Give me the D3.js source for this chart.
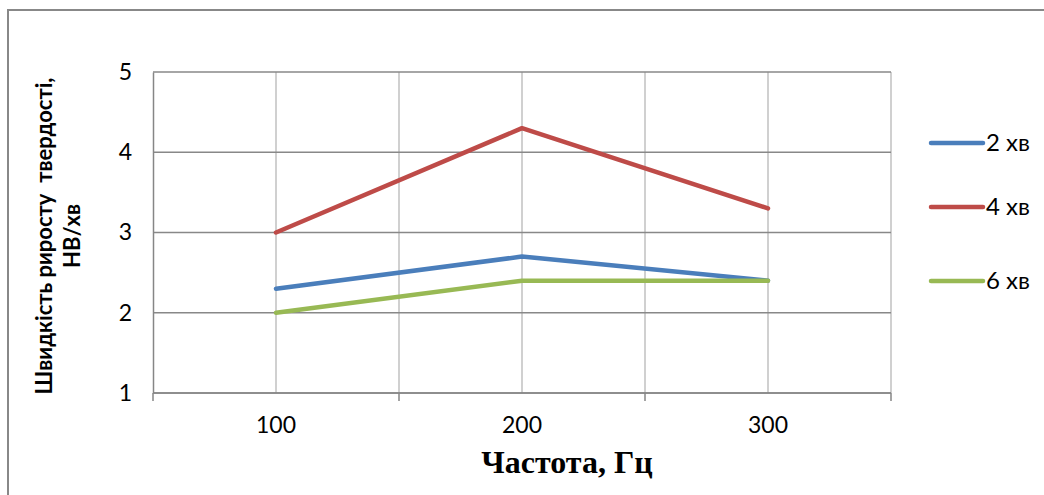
<!DOCTYPE html>
<html><head><meta charset="utf-8">
<script src="https://cdn.jsdelivr.net/npm/d3@7"></script>
<style>html,body{margin:0;padding:0;background:#fff;}</style>
</head><body>
<svg id="c" width="1044" height="495"></svg>
<script>
const categories = ["100", "200", "300"];
const seriesNames = ["2 хв", "4 хв", "6 хв"];
const series2 = [2.3, 2.7, 2.4];
const series4 = [3.0, 4.3, 3.3];
const series6 = [2.0, 2.4, 2.4];
const yTicks = [1, 2, 3, 4, 5];
const colors = ["#4a7ebb", "#be4b48", "#98b954"];
const allSeries = [series2, series4, series6];

const svg = d3.select("#c");
const L = 153, R = 891, T = 72, B = 393;
const FONT = "Lato, 'Open Sans', sans-serif";

svg.append("rect").attr("x", 8).attr("y", 10).attr("width", 1100).attr("height", 600)
  .attr("fill", "#fff").attr("stroke", "#888").attr("stroke-width", 2);

const xBand = d3.scaleBand().domain(categories).range([L, R]);
const xc = d => xBand(d) + xBand.bandwidth() / 2;
const y = d3.scaleLinear().domain([1, 5]).range([B, T]);

const g = svg.append("g");
const vx = [];
categories.forEach(c => { vx.push(xBand(c)); vx.push(xc(c)); });
vx.push(R);
vx.forEach(x => {
  if (Math.abs(x - L) < 1) return;
  g.append("line").attr("x1", x).attr("x2", x).attr("y1", T).attr("y2", B)
    .attr("stroke", "#c0c0c0").attr("stroke-width", 1.5);
});
yTicks.forEach(t => {
  g.append("line").attr("x1", L).attr("x2", R).attr("y1", y(t)).attr("y2", y(t))
    .attr("stroke", "#888").attr("stroke-width", 1.5);
});

const yAxis = d3.axisLeft(y).tickValues(yTicks).tickFormat(d3.format("d")).tickSize(0).tickPadding(21);
const ya = svg.append("g").attr("transform", `translate(${L},0)`).call(yAxis);
ya.select(".domain").attr("stroke", "#868686").attr("stroke-width", 1.5);
ya.selectAll("text").attr("font-family", FONT).attr("font-size", 23).attr("fill", "#000");

const xAxis = d3.axisBottom(xBand).tickSize(0).tickPadding(24);
const xa = svg.append("g").attr("transform", `translate(0,${B})`).call(xAxis);
xa.select(".domain").remove();
xa.selectAll("text").attr("font-family", FONT).attr("font-size", 23).attr("fill", "#000");
svg.append("line").attr("x1", L).attr("x2", R).attr("y1", B).attr("y2", B).attr("stroke", "#868686").attr("stroke-width", 1.5);
const bx = categories.map(c => xBand(c)).concat([R]);
bx.forEach(x => svg.append("line").attr("x1", x).attr("x2", x).attr("y1", B).attr("y2", B + 8)
  .attr("stroke", "#868686").attr("stroke-width", 1.5));

const line = d3.line().x((d, i) => xc(categories[i])).y(d => y(d));
allSeries.forEach((s, i) => {
  svg.append("path").datum(s).attr("d", line).attr("fill", "none")
    .attr("stroke", colors[i]).attr("stroke-width", 4.5).attr("stroke-linecap", "round").attr("stroke-linejoin", "round");
});

const ly = [143, 207, 281];
seriesNames.forEach((n, i) => {
  svg.append("line").attr("x1", 931).attr("x2", 983).attr("y1", ly[i]).attr("y2", ly[i])
    .attr("stroke", colors[i]).attr("stroke-width", 4.5).attr("stroke-linecap", "round");
  svg.append("text").attr("x", 986).attr("y", ly[i] + 8).text(n)
    .attr("font-family", FONT).attr("font-size", 24).attr("fill", "#000");
});

const yt = svg.append("text").attr("transform", "translate(0,236) rotate(-90)")
  .attr("text-anchor", "middle").attr("font-family", FONT)
  .attr("font-weight", "bold").attr("font-size", 22).attr("fill", "#000").attr("xml:space", "preserve");
yt.append("tspan").attr("x", 0).attr("y", 52).text("Швидкість рироcту  твердості,");
yt.append("tspan").attr("x", 0).attr("y", 80).text("НВ/хв");

svg.append("text").attr("x", 567).attr("y", 473).attr("text-anchor", "middle")
  .attr("font-family", "'Liberation Serif', 'Times New Roman', serif").attr("font-weight", "bold")
  .attr("font-size", 32).attr("fill", "#000").text("Частота, Гц");
</script>
</body></html>
